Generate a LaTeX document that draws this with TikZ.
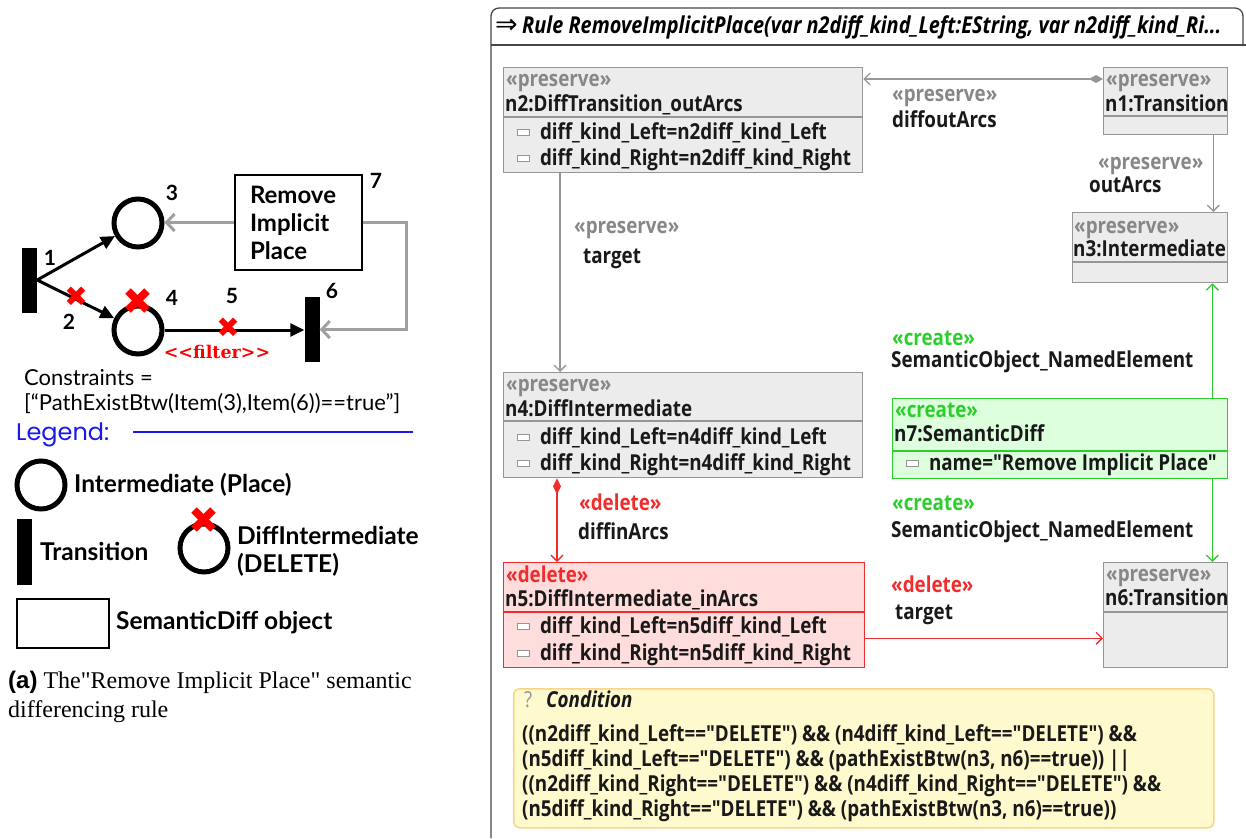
\documentclass[tikz,border=0pt]{standalone}
\usepackage{fontspec}
\usepackage{xcolor}
\setmainfont{Lato}
\newfontfamily\umlfont[FakeStretch=0.855]{Open Sans}
\newfontfamily\legfont{Poppins}
\newfontfamily\symfont{DejaVu Sans}
\newfontfamily\slabfont{DejaVu Serif}
\newfontfamily\capserif{Liberation Serif}
\newfontfamily\capsans{Liberation Sans}
\usetikzlibrary{positioning,arrows.meta,calc}

\definecolor{umlgray}{RGB}{150,150,150}
\definecolor{umlfill}{RGB}{236,236,236}
\definecolor{stereogray}{RGB}{135,135,135}
\definecolor{umlink}{RGB}{25,25,25}
\definecolor{delred}{RGB}{240,45,45}
\definecolor{delfill}{RGB}{255,221,221}
\definecolor{crgreen}{RGB}{45,205,45}
\definecolor{crfill}{RGB}{222,255,222}
\definecolor{condfill}{RGB}{255,250,205}
\definecolor{condline}{RGB}{250,212,135}
\definecolor{legblue}{RGB}{25,25,235}
\definecolor{netgray}{RGB}{160,160,160}

\newcommand{\umlsize}{\fontsize{22}{25}\selectfont}
\newcommand{\attricon}{\raisebox{4pt}{\setlength{\fboxsep}{0pt}\setlength{\fboxrule}{0.9pt}\fcolorbox{umlgray}{white}{\rule{0pt}{5pt}\rule{11pt}{0pt}}}\hspace{10pt}}

\tikzset{
  place/.style={circle, draw, line width=5pt, minimum size=48pt, inner sep=0pt},
  trans/.style={rectangle, fill=black, minimum width=15pt, minimum height=65pt, inner sep=0pt},
  semdiff/.style={rectangle, draw, line width=2.5pt, inner sep=0pt},
  pnarc/.style={line width=3pt, -{Triangle[length=14pt,width=13pt]}},
  greyarc/.style={line width=3pt, netgray, -{Straight Barb[length=8pt,width=17pt]}},
  delx/.style={text=red, inner sep=0pt, font=\symfont\fontsize{28}{28}\selectfont},
  bigx/.style={delx, font=\symfont\fontsize{37}{37}\selectfont},
  num/.style={inner sep=0pt, font=\bfseries\fontsize{21}{21}\selectfont},
  legtext/.style={anchor=west, inner sep=0pt, align=left, font=\bfseries\fontsize{24.5}{28}\selectfont},
  umlbox/.style={anchor=north west, draw=umlgray, fill=umlfill, line width=1.3pt, inner sep=0pt},
  stereo/.style={anchor=base west, inner sep=0pt, text=stereogray, font=\umlfont\bfseries\umlsize},
  umlname/.style={anchor=base west, inner sep=0pt, text=umlink, font=\umlfont\bfseries\umlsize},
  umlattr/.style={umlname},
  umledge/.style={umlgray, line width=1.3pt, -{Straight Barb[length=6pt,width=12pt]}},
}

\begin{document}
\begin{tikzpicture}[x=1pt, y=-1pt]
\useasboundingbox (0,0) rectangle (1246,838);

% ---- Petri net rule
\node[trans] (t1) at (29.5,280) {};
\node[place] (p3) at (138,223) {};
\node[place] (p4) at (138,330) {};
\node[trans] (t6) at (312,329.5) {};
\node[semdiff, minimum width=127pt, minimum height=95pt, text width=97pt, inner xsep=15pt, align=left,
      font=\bfseries\fontsize{24}{28}\selectfont] (b7) at (298.5,222.5) {Remove\\Implicit\\Place};

\draw[pnarc] (t1.east) -- (p3);
\draw[pnarc] (t1.east) -- (p4);
\draw[pnarc] (p4.east) -- (p4.east -| t6.west);
\draw[greyarc] (b7.west) -- (b7.west -| p3.east);
\coordinate (bend) at (406,222.5);
\draw[greyarc] (b7.east) -- (bend) |- (t6.east);

\node[delx] (x2) at (76,297) {✖};
\node[bigx] (x4) at (138,302) {✖};
\node[delx] (x5) at (228,328) {✖};

\node[num] (l1) at (50,258) {1};
\node[num] (l2) at (69,322) {2};
\node[num] (l3) at (172,193) {3};
\node[num] (l4) at (172,298) {4};
\node[num] (l5) at (232,296) {5};
\node[num] (l6) at (332,291) {6};
\node[num] (l7) at (376,181) {7};
\node[inner sep=0pt, text=red, font=\slabfont\bfseries\fontsize{17.5}{17.5}\selectfont] (filt) at (217,352) {<\kern0pt<filter>\kern0pt>};

\node[anchor=base west, inner sep=0pt, font=\fontsize{22}{22}\selectfont] (cons1) at (24,385) {Constraints =};
\node[anchor=base west, inner sep=0pt, font=\fontsize{22}{22}\selectfont] (cons2) at (24,410) {[“PathExistBtw(Item(3),Item(6))==true”]};

% ---- legend
\node[anchor=base west, inner sep=0pt, text=legblue, font=\legfont\fontsize{24}{24}\selectfont] (leg) at (16,440) {Legend:};
\coordinate (legstart) at (133,432);
\coordinate (legend) at (413,432);
\draw[legblue, line width=1.2pt] (legstart) -- (legend);

\node[place] (lp) at (41,485) {};
\node[legtext] (lpt) at (74,485) {Intermediate (Place)};
\node[trans, minimum height=66pt] (lt) at (24.5,552) {};
\node[legtext] (ltt) at (40,551) {Transition};
\node[place] (ld) at (204,548) {};
\node[bigx] (ldx) at (204,521) {✖};
\node[legtext] (ldt) at (237,551) {DiffIntermediate\\(DELETE)};
\node[semdiff, minimum width=92pt, minimum height=49pt] (lr) at (63,623.5) {};
\node[legtext] (lrt) at (116,623) {SemanticDiff object};

\node[anchor=base west, inner sep=0pt, font=\capserif\fontsize{24}{24}\selectfont] (cap1) at (8,688)
  {{\capsans\bfseries (a)} The"Remove Implicit Place" semantic};
\node[anchor=base west, inner sep=0pt, font=\capserif\fontsize{24}{24}\selectfont] (cap2) at (8,717)
  {differencing rule};

% ---- Henshin rule
\draw[umlink!80, line width=1.3pt, rounded corners=8pt] (491,838) -- (491,8) -- (1243,8) -- (1243,46);
\draw[umlink!80, line width=1.3pt] (491,45) -- (1246,45);
\node[anchor=west, inner sep=0pt, font=\symfont\fontsize{27}{27}\selectfont] (rarrow) at (495,26) {⇒};
\node[anchor=base west, inner sep=0pt, font=\umlfont\bfseries\itshape\fontsize{23.3}{25}\selectfont] (rtitle) at (522,33)
  {Rule RemoveImplicitPlace(var n2diff\_kind\_Left:EString, var n2diff\_kind\_Ri...};

% n2
\node[umlbox, minimum width=359pt, minimum height=105pt] (n2) at (503,67) {};
\draw[umlgray, line width=1.3pt] ($(n2.north west)+(0,50)$) -- ($(n2.north east)+(0,50)$);
\node[stereo] (n2s) at (506,86) {«preserve»};
\node[umlname] (n2n) at (505,111) {n2:DiffTransition\_outArcs};
\node[umlattr] (n2a) at (517,139) {\attricon diff\_kind\_Left=n2diff\_kind\_Left};
\node[umlattr] (n2b) at (517,165) {\attricon diff\_kind\_Right=n2diff\_kind\_Right};

% n1
\node[umlbox, minimum width=124pt, minimum height=67pt] (n1) at (1103,67) {};
\draw[umlgray, line width=1.3pt] ($(n1.north west)+(0,49)$) -- ($(n1.north east)+(0,49)$);
\node[stereo] (n1s) at (1106,86) {«preserve»};
\node[umlname] (n1n) at (1105,111) {n1:Transition};

% n3
\node[umlbox, minimum width=155pt, minimum height=70pt] (n3) at (1072,212) {};
\draw[umlgray, line width=1.3pt] ($(n3.north west)+(0,50)$) -- ($(n3.north east)+(0,50)$);
\node[stereo] (n3s) at (1074,233) {«preserve»};
\node[umlname] (n3n) at (1073,256) {n3:Intermediate};

% n4
\node[umlbox, minimum width=359pt, minimum height=105pt] (n4) at (503,372) {};
\draw[umlgray, line width=1.3pt] ($(n4.north west)+(0,49)$) -- ($(n4.north east)+(0,49)$);
\node[stereo] (n4s) at (506,391) {«preserve»};
\node[umlname] (n4n) at (505,416) {n4:DiffIntermediate};
\node[umlattr] (n4a) at (517,444) {\attricon diff\_kind\_Left=n4diff\_kind\_Left};
\node[umlattr] (n4b) at (517,470) {\attricon diff\_kind\_Right=n4diff\_kind\_Right};

% n5
\node[umlbox, draw=delred, fill=delfill, minimum width=361pt, minimum height=105pt] (n5) at (503,562) {};
\draw[delred, line width=1.3pt] ($(n5.north west)+(0,50)$) -- ($(n5.north east)+(0,50)$);
\node[stereo, text=delred] (n5s) at (506,582) {«delete»};
\node[umlname] (n5n) at (505,606) {n5:DiffIntermediate\_inArcs};
\node[umlattr] (n5a) at (517,633) {\attricon diff\_kind\_Left=n5diff\_kind\_Left};
\node[umlattr] (n5b) at (517,660) {\attricon diff\_kind\_Right=n5diff\_kind\_Right};

% n6
\node[umlbox, minimum width=124pt, minimum height=105pt] (n6) at (1103,562) {};
\draw[umlgray, line width=1.3pt] ($(n6.north west)+(0,50)$) -- ($(n6.north east)+(0,50)$);
\node[stereo] (n6s) at (1106,581) {«preserve»};
\node[umlname] (n6n) at (1105,605) {n6:Transition};

% n7
\node[umlbox, draw=crgreen, fill=crfill, minimum width=335pt, minimum height=80pt] (n7) at (892,398) {};
\draw[crgreen, line width=1.3pt] ($(n7.north east)+(0,53)$) -- ($(n7.north west)+(0,53)$);
\node[stereo, text=crgreen] (n7s) at (895,417) {«create»};
\node[umlname] (n7n) at (894,441) {n7:SemanticDiff};
\node[umlattr] (n7a) at (906,470) {\attricon name="Remove Implicit Place"};

% edges
\draw[umledge, {Diamond[length=14pt,width=8pt]}-{Straight Barb[length=6pt,width=12pt]}]
  ($(n1.north west)+(0,12)$) -- ($(n2.north east)+(0,12)$);
\node[stereo] (e1s) at (892,101) {«preserve»};
\node[umlname] (e1n) at (892,127) {diffoutArcs};

\draw[umledge] ($(n1.south east)+(-15,0)$) -- ($(n3.north east)+(-15,0)$);
\node[stereo] (e2s) at (1098,169) {«preserve»};
\node[umlname] (e2n) at (1089,192) {outArcs};

\draw[umledge] ($(n2.south west)+(57,0)$) -- ($(n4.north west)+(57,0)$);
\node[stereo] (e3s) at (574,233) {«preserve»};
\node[umlname] (e3n) at (583,263) {target};

\draw[umledge, delred, {Diamond[length=16pt,width=8pt]}-{Straight Barb[length=6pt,width=12pt]}]
  ($(n4.south west)+(54,0)$) -- ($(n5.north west)+(54,0)$);
\node[stereo, text=delred] (e4s) at (579,510) {«delete»};
\node[umlname] (e4n) at (578,539) {diffinArcs};

\draw[umledge, delred] ($(n5.south east)+(0,-30)$) -- ($(n6.south west)+(0,-30)$);
\node[stereo, text=delred] (e5s) at (891,592) {«delete»};
\node[umlname] (e5n) at (895,619) {target};

\draw[umledge, crgreen] ($(n7.north east)+(-16,0)$) -- ($(n3.south east)+(-16,0)$);
\node[stereo, text=crgreen] (e6s) at (892,345) {«create»};
\node[umlname] (e6n) at (891,367) {SemanticObject\_NamedElement};

\draw[umledge, crgreen] ($(n7.south east)+(-16,0)$) -- ($(n6.north east)+(-16,0)$);
\node[stereo, text=crgreen] (e7s) at (892,510) {«create»};
\node[umlname] (e7n) at (891,537) {SemanticObject\_NamedElement};

% condition
\node[anchor=north west, draw=condline, fill=condfill, line width=1.5pt, rounded corners=6pt,
      minimum width=700pt, minimum height=139pt, inner sep=0pt] (cond) at (513,688) {};
\node[stereo, text=umlgray, font=\umlfont\umlsize] (condq) at (524,707) {?};
\node[umlname, font=\umlfont\bfseries\itshape\umlsize] (condt) at (546,707) {Condition};
\node[umlname] (c1) at (522,741) {((n2diff\_kind\_Left=="DELETE") \&\& (n4diff\_kind\_Left=="DELETE") \&\&};
\node[umlname] (c2) at (522,766) {(n5diff\_kind\_Left=="DELETE") \&\& (pathExistBtw(n3, n6)==true)) ||};
\node[umlname] (c3) at (522,791) {((n2diff\_kind\_Right=="DELETE") \&\& (n4diff\_kind\_Right=="DELETE") \&\&};
\node[umlname] (c4) at (522,816) {(n5diff\_kind\_Right=="DELETE") \&\& (pathExistBtw(n3, n6)==true))};
\end{tikzpicture}
\end{document}
